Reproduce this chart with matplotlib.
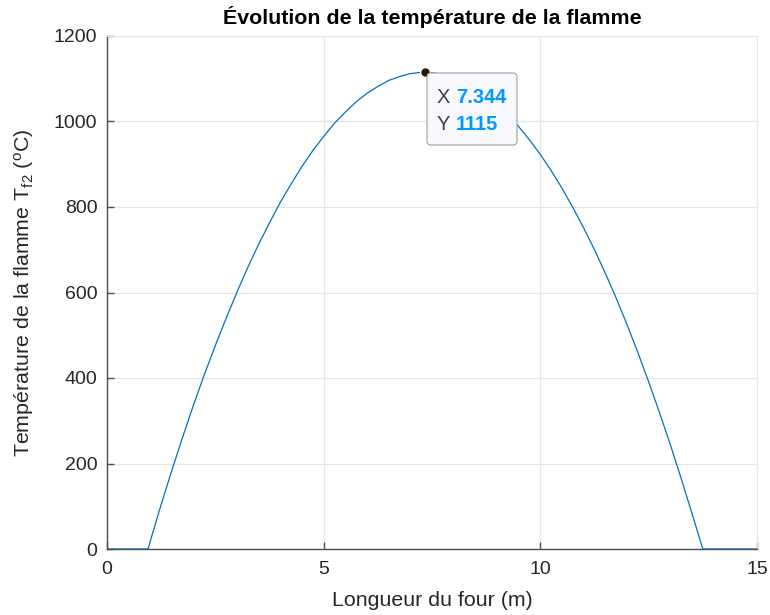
import matplotlib
matplotlib.use("Agg")
import matplotlib.pyplot as plt
from matplotlib.patches import FancyBboxPatch

plt.rcParams['font.family'] = ['Liberation Sans', 'DejaVu Sans']
plt.rcParams['mathtext.fontset'] = 'custom'
plt.rcParams['mathtext.rm'] = 'Liberation Sans'
plt.rcParams['mathtext.it'] = 'Liberation Sans'

# Data
x_m = [0.0, 0.95, 1.0, 1.25, 1.5, 1.75, 2.0, 2.25, 2.5, 2.75, 3.0, 3.25, 3.5, 3.75,
       4.0, 4.25, 4.5, 4.75, 5.0, 5.25, 5.5, 5.75, 6.0, 6.25, 6.5, 6.75, 7.0, 7.25,
       7.344, 7.5, 7.75, 8.0, 8.25, 8.5, 8.75, 9.0, 9.25, 9.5, 9.75, 10.0, 10.25,
       10.5, 10.75, 11.0, 11.25, 11.5, 11.75, 12.0, 12.25, 12.5, 12.75, 13.0, 13.25,
       13.5, 13.75, 15.0]
t_flame = [0, 0, 19, 104, 185, 263, 338, 409, 476, 540, 601, 659, 713, 763,
           811, 854, 895, 932, 965, 996, 1022, 1046, 1066, 1082, 1096, 1105, 1112, 1115,
           1115, 1114, 1110, 1103, 1093, 1079, 1061, 1040, 1016, 988, 957, 923, 885,
           844, 799, 751, 700, 645, 587, 525, 460, 391, 319, 244, 165,
           83, 0, 0]
tip_x = 7.344
tip_y = 1115
x_ticks = [0, 5, 10, 15]
y_ticks = [0, 200, 400, 600, 800, 1000, 1200]

fig = plt.figure(figsize=(7.7, 6.15), dpi=100)
ax = fig.add_axes([107/770, 1-549/615, 650/770, 513/615])

ax.plot(x_m, t_flame, color='#0072BD', lw=0.9, zorder=3)
ax.set_xlim(0, 15)
ax.set_ylim(0, 1200)
ax.set_xticks(x_ticks)
ax.set_yticks(y_ticks)
ax.grid(True, color='#e5e5e5', lw=0.9)
ax.set_axisbelow(True)
for s in ['top', 'right']:
    ax.spines[s].set_color('#e5e5e5')
for s in ['left', 'bottom']:
    ax.spines[s].set_color('#4d4d4d')
    ax.spines[s].set_linewidth(1.0)
ax.tick_params(direction='in', length=5, width=1, colors='#4d4d4d',
               labelcolor='#262626', labelsize=14, top=False, right=False)
ax.tick_params(axis='x', pad=9)
ax.tick_params(axis='y', pad=7)

ax.set_xlabel('Longueur du four (m)', fontsize=15.4, color='#262626')
ax.xaxis.set_label_coords(0.5, (549-601)/513)
ax.xaxis.label.set_va('center')
ax.set_ylabel(r'Température de la flamme T$_{\mathrm{f2}}$ ($^{\mathrm{o}}$C)',
              fontsize=15.4, color='#262626')
ax.yaxis.set_label_coords((24-107)/650, 0.5)
ax.yaxis.label.set_va('center')
fig.text(432/770, 1-17.5/615, 'Évolution de la température de la flamme', fontsize=15.4,
         fontweight='bold', color='black', ha='center', va='center')

# data tip
ax.plot([tip_x], [tip_y], 'o', ms=7, mfc='#1a1a1a', mec='#ffffc0', mew=1.0, zorder=5)
bx0 = 427; by0 = 145; bw = 90; bh = 72
box = FancyBboxPatch((bx0, 615 - by0), bw, bh, boxstyle='round,pad=0,rounding_size=4',
                     transform=None, facecolor='#f8f8ff', edgecolor='#a0a0a0', lw=0.8,
                     zorder=6)
ax.add_artist(box)
def px(xp, yp):
    return (xp/770, 1 - yp/615)
fig.text(*px(437, 97.5), 'X', fontsize=14.5, color='#404040', va='center', ha='left', zorder=7)
fig.text(*px(456, 97.5), str(tip_x), fontsize=14.5, color='#0099FF', fontweight='bold',
         va='center', ha='left', zorder=7)
fig.text(*px(437, 124), 'Y', fontsize=14.5, color='#404040', va='center', ha='left', zorder=7)
fig.text(*px(456, 124), str(tip_y), fontsize=14.5, color='#0099FF', fontweight='bold',
         va='center', ha='left', zorder=7)

fig.savefig('out.png', dpi=100)
